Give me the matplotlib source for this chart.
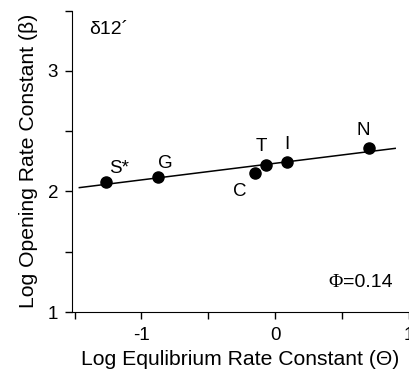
import numpy as np
import matplotlib
matplotlib.use("Agg")
import matplotlib.pyplot as plt
from matplotlib.ticker import MultipleLocator

labels = ["S*", "G", "C", "T", "I", "N"]
log_theta = [-1.268, -0.876, -0.147, -0.065, 0.088, 0.70]
log_beta = [2.08, 2.12, 2.157, 2.218, 2.248, 2.364]
label_x = [-1.166, -0.818, -0.267, -0.10, 0.09, 0.657]
label_y = [2.19, 2.23, 1.997, 2.37, 2.39, 2.51]
fit_range = [-1.465, 0.899]

plt.rcParams['font.family'] = ['Liberation Sans', 'DejaVu Sans']
plt.rcParams['axes.unicode_minus'] = False

fig = plt.figure(figsize=(4.10, 3.78), dpi=100)
ax = fig.add_axes([0.1756, 0.1746, 0.8212, 0.7971])

slope, intercept = np.polyfit(log_theta, log_beta, 1)
fx = np.array(fit_range)
ax.plot(fx, slope * fx + intercept, color='black', lw=1.1, zorder=2)
ax.plot(log_theta, log_beta, 'o', color='black', ms=8, zorder=3)
for lab, lx, ly in zip(labels, label_x, label_y):
    ax.text(lx, ly, lab, ha='center', va='center', fontsize=13.5)

ax.set_xlim(-1.52, 1.0)
ax.set_ylim(1.0, 3.5)
ax.xaxis.set_major_locator(MultipleLocator(1))
ax.xaxis.set_minor_locator(MultipleLocator(0.5))
ax.yaxis.set_major_locator(MultipleLocator(1))
ax.yaxis.set_minor_locator(MultipleLocator(0.5))
ax.tick_params(which='both', direction='out', length=5, width=1, labelsize=13.5)
ax.tick_params(axis='x', pad=6)
ax.tick_params(axis='y', pad=5)
ax.spines['top'].set_visible(False)
ax.spines['right'].set_visible(False)

ax.set_xlabel("Log Equlibrium Rate Constant (\u0398)", fontsize=15.2, labelpad=4)
ax.set_ylabel("Log Opening Rate Constant (\u03b2)", fontsize=15.2, labelpad=7)

ax.text(0.05, 0.965, "\u03b412\u00b4", transform=ax.transAxes, ha='left', va='top',
        fontsize=14)
t = ax.text(0.952, 0.097, "=0.14", transform=ax.transAxes, ha='right', va='center',
            fontsize=14)
ax.annotate("\u03a6", xy=(0, 0.5), xycoords=t, ha='right', va='center',
            fontsize=14, family=['Liberation Serif', 'DejaVu Serif'])

fig.savefig("out.png", dpi=100)
